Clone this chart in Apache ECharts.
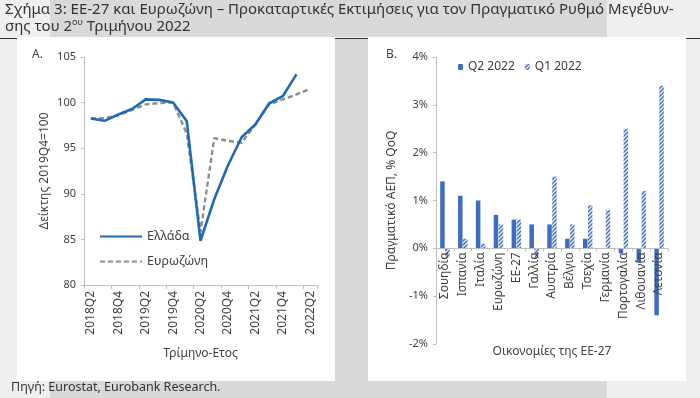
<!DOCTYPE html>
<html><head><meta charset="utf-8">
<script src="https://cdn.jsdelivr.net/npm/echarts@6/dist/echarts.min.js"></script>
<style>
html,body{margin:0;padding:0;background:#efefef;}
#wrap{position:relative;width:700px;height:398px;overflow:hidden;}
.bg{position:absolute;}
#c{position:absolute;left:0;top:0;width:700px;height:398px;}
</style>
</head><body>
<div id="wrap">
<div class="bg" style="left:50px;top:0;width:557px;height:37px;background:#d9d9d9"></div>
<div class="bg" style="left:50px;top:381px;width:557px;height:17px;background:#d9d9d9"></div>
<div class="bg" style="left:335px;top:38px;width:33px;height:360px;background:#d9d9d9"></div>
<div class="bg" style="left:0;top:38px;width:700px;height:1px;background:#333"></div>
<div class="bg" style="left:17px;top:37px;width:318px;height:344px;background:#fff"></div>
<div class="bg" style="left:368px;top:37px;width:318px;height:344px;background:#fff"></div>
<div id="c"></div>
</div>
<script>
// ---- data ----
const quarters = ['2018Q2','2018Q3','2018Q4','2019Q1','2019Q2','2019Q3','2019Q4','2020Q1','2020Q2','2020Q3','2020Q4','2021Q1','2021Q2','2021Q3','2021Q4','2022Q1','2022Q2'];
const greece   = [98.25, 98.0, 98.7, 99.3, 100.35, 100.3, 100.0, 97.95, 84.85, 89.4, 93.1, 96.2, 97.6, 99.9, 100.7, 103.1, null];
const eurozone = [98.3, 98.3, 98.6, 99.2, 99.8, 99.95, 100.0, 96.6, 85.8, 96.1, 95.8, 95.6, 97.6, 99.8, 100.35, 100.9, 101.5];
const leftTicks = [80, 85, 90, 95, 100, 105];

const countries = ['Σουηδία','Ισπανία','Ιταλία','Ευρωζώνη','ΕΕ-27','Γαλλία','Αυστρία','Βέλγιο','Τσεχία','Γερμανία','Πορτογαλία','Λιθουανία','Λετονία'];
const q2_2022 = [1.4, 1.1, 1.0, 0.7, 0.6, 0.5, 0.5, 0.2, 0.2, 0.0, -0.1, -0.3, -1.4];
const q1_2022 = [-0.2, 0.2, 0.1, 0.5, 0.6, -0.2, 1.5, 0.5, 0.9, 0.8, 2.5, 1.2, 3.4];
const rightTicks = [-2, -1, 0, 1, 2, 3, 4];

const FONT = 'Noto Sans';
const TXT = '#404040';
const AX = '#bfbfbf';
const BLUE = '#3d6cc4';

const RIGHT_H = 287;
const rMin = rightTicks[0], rMax = rightTicks[rightTicks.length - 1];
const zeroOffset = -RIGHT_H * (0 - rMin) / (rMax - rMin);

function hatch() {
  const c = document.createElement('canvas');
  c.width = 4; c.height = 4;
  const g = c.getContext('2d');
  g.fillStyle = '#e3eaf7'; g.fillRect(0, 0, 4, 4);
  g.strokeStyle = BLUE; g.lineWidth = 1.3;
  g.beginPath();
  g.moveTo(0, 4); g.lineTo(4, 0);
  g.moveTo(-1, 1); g.lineTo(1, -1);
  g.moveTo(3, 5); g.lineTo(5, 3);
  g.stroke();
  return c;
}

const chart = echarts.init(document.getElementById('c'), null, {renderer: 'canvas'});
const axisCommon = {
  axisLine: {show: true, lineStyle: {color: AX, width: 1}},
  axisTick: {show: true, length: 3, lineStyle: {color: AX}},
  splitLine: {show: false},
  nameTextStyle: {fontFamily: FONT, fontSize: 12, color: TXT},
  axisLabel: {fontFamily: FONT, fontSize: 11, color: TXT}
};

chart.setOption({
  backgroundColor: 'transparent',
  animation: false,
  textStyle: {fontFamily: FONT},
  graphic: [
    {type: 'text', left: 5, top: 2, style: {text: 'Σχήμα 3: ΕΕ-27 και Ευρωζώνη – Προκαταρτικές Εκτιμήσεις για τον Πραγματικό Ρυθμό Μεγέθυν-', font: '15px "Noto Sans"', fill: '#333'}},
    {type: 'text', left: 5, top: 18, style: {text: 'σης του 2{sup|ου} Τριμήνου 2022', font: '15px "Noto Sans"', fill: '#333',
      rich: {sup: {fontSize: 9, fontFamily: FONT, fill: '#333', verticalAlign: 'top', padding: [0, 0, 8, 0]}}}},
    {type: 'text', left: 32, top: 49, style: {text: 'A.', font: '12px "Noto Sans"', fill: TXT}},
    {type: 'text', left: 386, top: 49, style: {text: 'B.', font: '12px "Noto Sans"', fill: TXT}},
    {type: 'text', left: 11, top: 381, style: {text: 'Πηγή: Eurostat, Eurobank Research.', font: '12.5px "Noto Sans"', fill: '#333'}}
  ],
  legend: [
    {data: ['Ελλάδα', 'Ευρωζώνη'], orient: 'vertical', left: 99, top: 230, itemWidth: 42, itemHeight: 14, itemGap: 12,
     selectedMode: false, padding: 0, itemStyle: {opacity: 0}, textStyle: {fontFamily: FONT, fontSize: 12.5, color: TXT}},
    {data: ['Q2 2022', 'Q1 2022'], orient: 'horizontal', left: 458, top: 61, itemWidth: 5, itemHeight: 6, itemGap: 10,
     selectedMode: false, padding: 0, textStyle: {fontFamily: FONT, fontSize: 12, color: TXT}}
  ],
  grid: [
    {left: 84, top: 57, width: 233, height: 228, containLabel: false, outerBoundsMode: 'none'},
    {left: 436, top: 57, width: 232, height: RIGHT_H, containLabel: false, outerBoundsMode: 'none'}
  ],
  xAxis: [
    Object.assign({}, axisCommon, {
      gridIndex: 0, type: 'category', data: quarters, boundaryGap: true,
      axisTick: {show: true, length: 4, interval: 1, lineStyle: {color: AX}},
      axisLabel: {interval: 1, rotate: 90, fontFamily: FONT, fontSize: 12, color: TXT, margin: 6},
      name: 'Τρίμηνο-Ετος', nameLocation: 'middle', nameGap: 63
    }),
    Object.assign({}, axisCommon, {
      gridIndex: 1, type: 'category', data: countries, boundaryGap: true, z: 10,
      offset: zeroOffset,
      axisLine: {show: true, onZero: false, lineStyle: {color: AX}},
      axisTick: {show: true, length: 3, interval: 0, lineStyle: {color: AX}},
      axisLabel: {interval: 0, rotate: 90, fontFamily: FONT, fontSize: 12, color: TXT, margin: 4},
      name: 'Οικονομίες της ΕΕ-27', nameLocation: 'middle', nameGap: 97
    })
  ],
  yAxis: [
    Object.assign({}, axisCommon, {
      gridIndex: 0, type: 'value', min: leftTicks[0], max: leftTicks[leftTicks.length - 1], interval: leftTicks[1] - leftTicks[0],
      axisLabel: {fontFamily: FONT, fontSize: 11, color: TXT, margin: 8},
      name: 'Δείκτης 2019Q4=100', nameLocation: 'middle', nameGap: 33
    }),
    Object.assign({}, axisCommon, {
      gridIndex: 1, type: 'value', min: rMin, max: rMax, interval: rightTicks[1] - rightTicks[0],
      axisLabel: {fontFamily: FONT, fontSize: 11, color: TXT, margin: 8, formatter: '{value}%'},
      name: 'Πραγματικό ΑΕΠ, % QoQ', nameLocation: 'middle', nameGap: 38
    })
  ],
  series: [
    {name: 'Ελλάδα', type: 'line', xAxisIndex: 0, yAxisIndex: 0, data: greece, symbol: 'none', z: 3,
     lineStyle: {color: '#1f6ab5', width: 2.6}, itemStyle: {color: '#1f6ab5'}},
    {name: 'Ευρωζώνη', type: 'line', xAxisIndex: 0, yAxisIndex: 0, data: eurozone, symbol: 'none', z: 2,
     lineStyle: {color: '#8e8e8e', width: 2.4, type: [5, 3]}, itemStyle: {color: '#8e8e8e'}},
    {name: 'Q2 2022', type: 'bar', xAxisIndex: 1, yAxisIndex: 1, data: q2_2022, barWidth: 4.5, barGap: '10%',
     itemStyle: {color: BLUE}},
    {name: 'Q1 2022', type: 'bar', xAxisIndex: 1, yAxisIndex: 1, data: q1_2022, barWidth: 4.5, barGap: '10%',
     itemStyle: {color: {image: hatch(), repeat: 'repeat'}}}
  ]
});
</script>
</body></html>
